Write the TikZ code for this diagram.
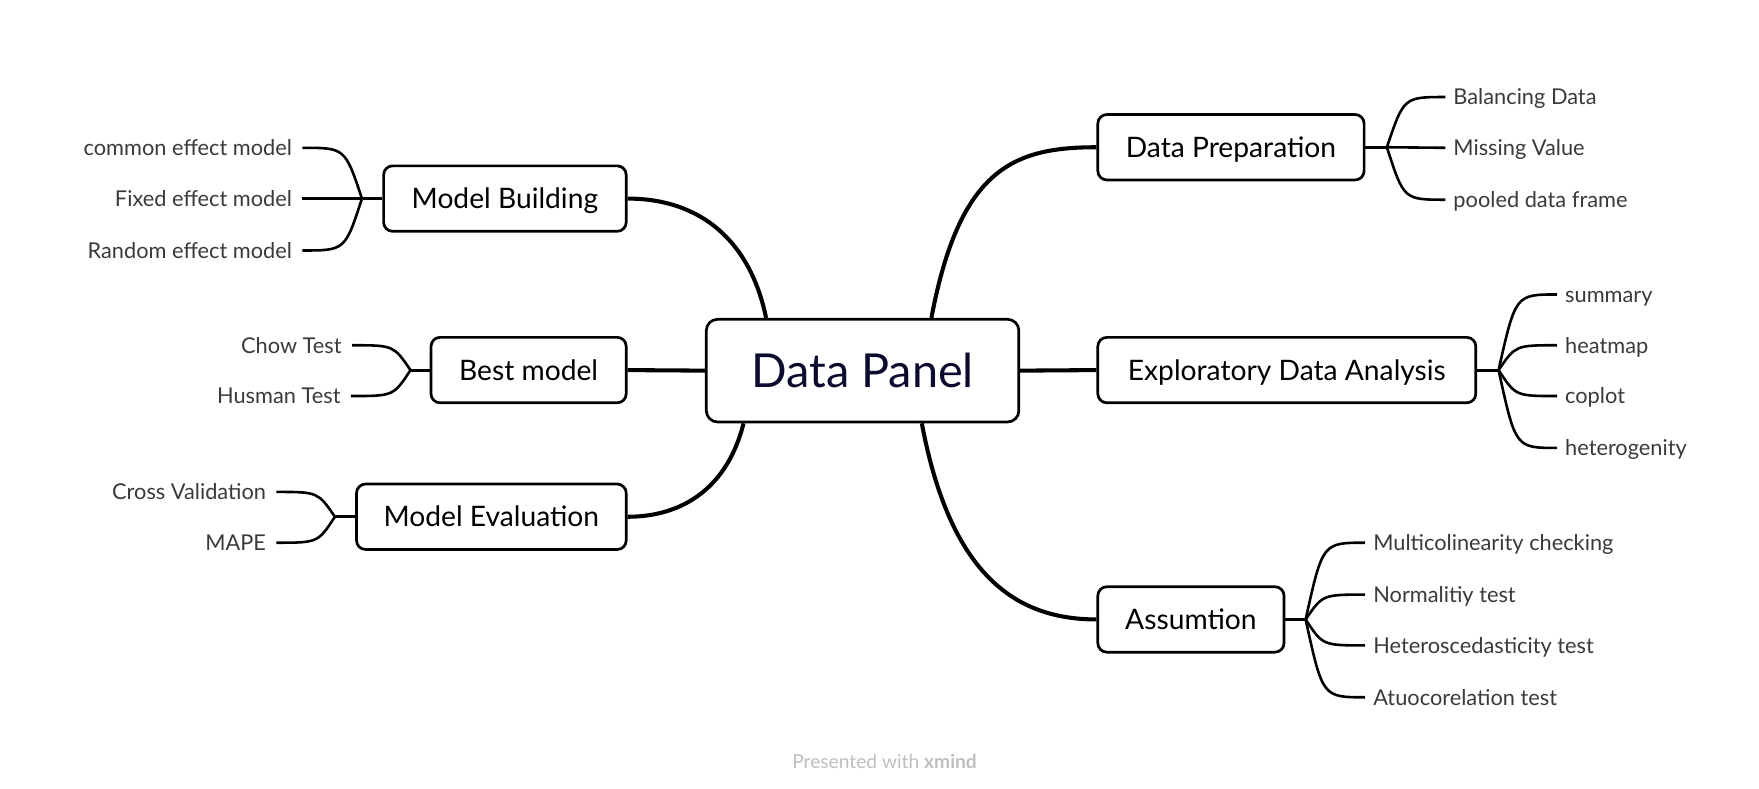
\documentclass[tikz,border=0pt]{standalone}
\usepackage{fontspec}
\setmainfont{Lato}
\usetikzlibrary{calc}
\definecolor{navy}{HTML}{0B0B2E}
\definecolor{leafgray}{HTML}{3A3A3A}
\definecolor{footgray}{HTML}{BEBEBE}
\begin{document}
\begin{tikzpicture}[x=1pt,y=-1pt,
  topic/.style={draw, line width=2.4pt, rounded corners=8pt, minimum height=58pt,
    font=\fontsize{25}{28}\selectfont, text height=18pt, text depth=0pt, inner sep=0pt, text=black},
  centre/.style={draw, line width=2.4pt, rounded corners=10pt, minimum height=91pt, minimum width=277pt,
    font=\fontsize{41.5}{44}\selectfont, text height=29.5pt, text depth=0pt, inner sep=0pt, text=navy},
  leaf/.style={font=\fontsize{19.3}{22}\selectfont, text height=13.9pt, text depth=0pt, inner sep=0pt, text=leafgray},
  mainline/.style={line width=3.6pt},
  subline/.style={line width=2.3pt},
  stub/.style={line width=2.8pt}]
\useasboundingbox (0,0) rectangle (1559,699);

% central and topics
\node[centre] (main) at (764.5,328.5) {Data Panel};
\node[topic, minimum width=236pt] (dp) at (1091,130.5) {Data Preparation};
\node[topic, minimum width=335pt] (eda) at (1140.5,328) {Exploratory Data Analysis};
\node[topic, minimum width=165pt] (as) at (1055.5,549) {Assumtion};
\node[topic, minimum width=215pt] (mb) at (447.5,176) {Model Building};
\node[topic, minimum width=173pt] (bm) at (468.5,328) {Best model};
\node[topic, minimum width=239pt] (me) at (435.5,458) {Model Evaluation};

% main connectors
\draw[mainline] ([xshift=61pt]main.north) .. controls +(25,-133) and +(-73,0) .. (dp.west);
\draw[mainline] (main.east) -- (eda.west);
\draw[mainline] ([xshift=52.5pt]main.south) .. controls +(25,133) and +(-73,0) .. (as.west);
\draw[mainline] ([xshift=-85.5pt]main.north) .. controls +(-14,-68) and +(65,0) .. (mb.east);
\draw[mainline] (main.west) -- (bm.east);
\draw[mainline] ([xshift=-105.5pt]main.south) .. controls +(-14,56) and +(50,0) .. (me.east);

% leaves right
\node[leaf, anchor=west] (dp1) at (1288,86) {Balancing Data};
\node[leaf, anchor=west] (dp2) at (1288,131) {Missing Value};
\node[leaf, anchor=west] (dp3) at (1288,177) {pooled data frame};
\node[leaf, anchor=west] (e1) at (1387,261) {summary};
\node[leaf, anchor=west] (e2) at (1387,306) {heatmap};
\node[leaf, anchor=west] (e3) at (1387,351) {coplot};
\node[leaf, anchor=west] (e4) at (1387,397) {heterogenity};
\node[leaf, anchor=west] (a1) at (1217,481) {Multicolinearity checking};
\node[leaf, anchor=west] (a2) at (1217,527) {Normalitiy test};
\node[leaf, anchor=west] (a3) at (1217,572) {Heteroscedasticity test};
\node[leaf, anchor=west] (a4) at (1217,618) {Atuocorelation test};
% leaves left
\node[leaf, anchor=east] (m1) at (259,131) {common effect model};
\node[leaf, anchor=east] (m2) at (259,176) {Fixed effect model};
\node[leaf, anchor=east] (m3) at (259,222) {Random effect model};
\node[leaf, anchor=east] (b1) at (303,306) {Chow Test};
\node[leaf, anchor=east] (b2) at (302,351) {Husman Test};
\node[leaf, anchor=east] (v1) at (236,436) {Cross Validation};
\node[leaf, anchor=east] (v2) at (236,481) {MAPE};

% branch points
\coordinate (dpb) at ([xshift=19pt]dp.east);
\coordinate (edab) at ([xshift=19pt]eda.east);
\coordinate (asb) at ([xshift=18pt]as.east);
\coordinate (mbb) at ([xshift=-18pt]mb.west);
\coordinate (bmb) at ([xshift=-17pt]bm.west);
\coordinate (meb) at ([xshift=-18pt]me.west);

\draw[stub] (dp.east) -- (dpb);
\draw[stub] (eda.east) -- (edab);
\draw[stub] (as.east) -- (asb);
\draw[stub] (mb.west) -- (mbb);
\draw[stub] (bm.west) -- (bmb);
\draw[stub] (me.west) -- (meb);

% right branches
\foreach \b/\l in {dpb/dp1, dpb/dp3, edab/e1, edab/e2, edab/e3, edab/e4, asb/a1, asb/a2, asb/a3, asb/a4}
  \draw[subline] (\b) .. controls ($(\b |- \l.west)+(15,0)$) .. ([xshift=-7pt]\l.west);
\draw[subline] (dpb) -- ([xshift=-7pt]dp2.west);
% left branches
\foreach \b/\l in {mbb/m1, mbb/m3, bmb/b1, bmb/b2, meb/v1, meb/v2}
  \draw[subline] (\b) .. controls ($(\b |- \l.east)+(-15,0)$) .. ([xshift=9pt]\l.east);
\draw[subline] (mbb) -- ([xshift=9pt]m2.east);

% footer
\node[font=\fontsize{17}{20}\selectfont, text=footgray] (foot) at (784,675) {Presented with \textbf{xmind}};
\end{tikzpicture}
\end{document}
